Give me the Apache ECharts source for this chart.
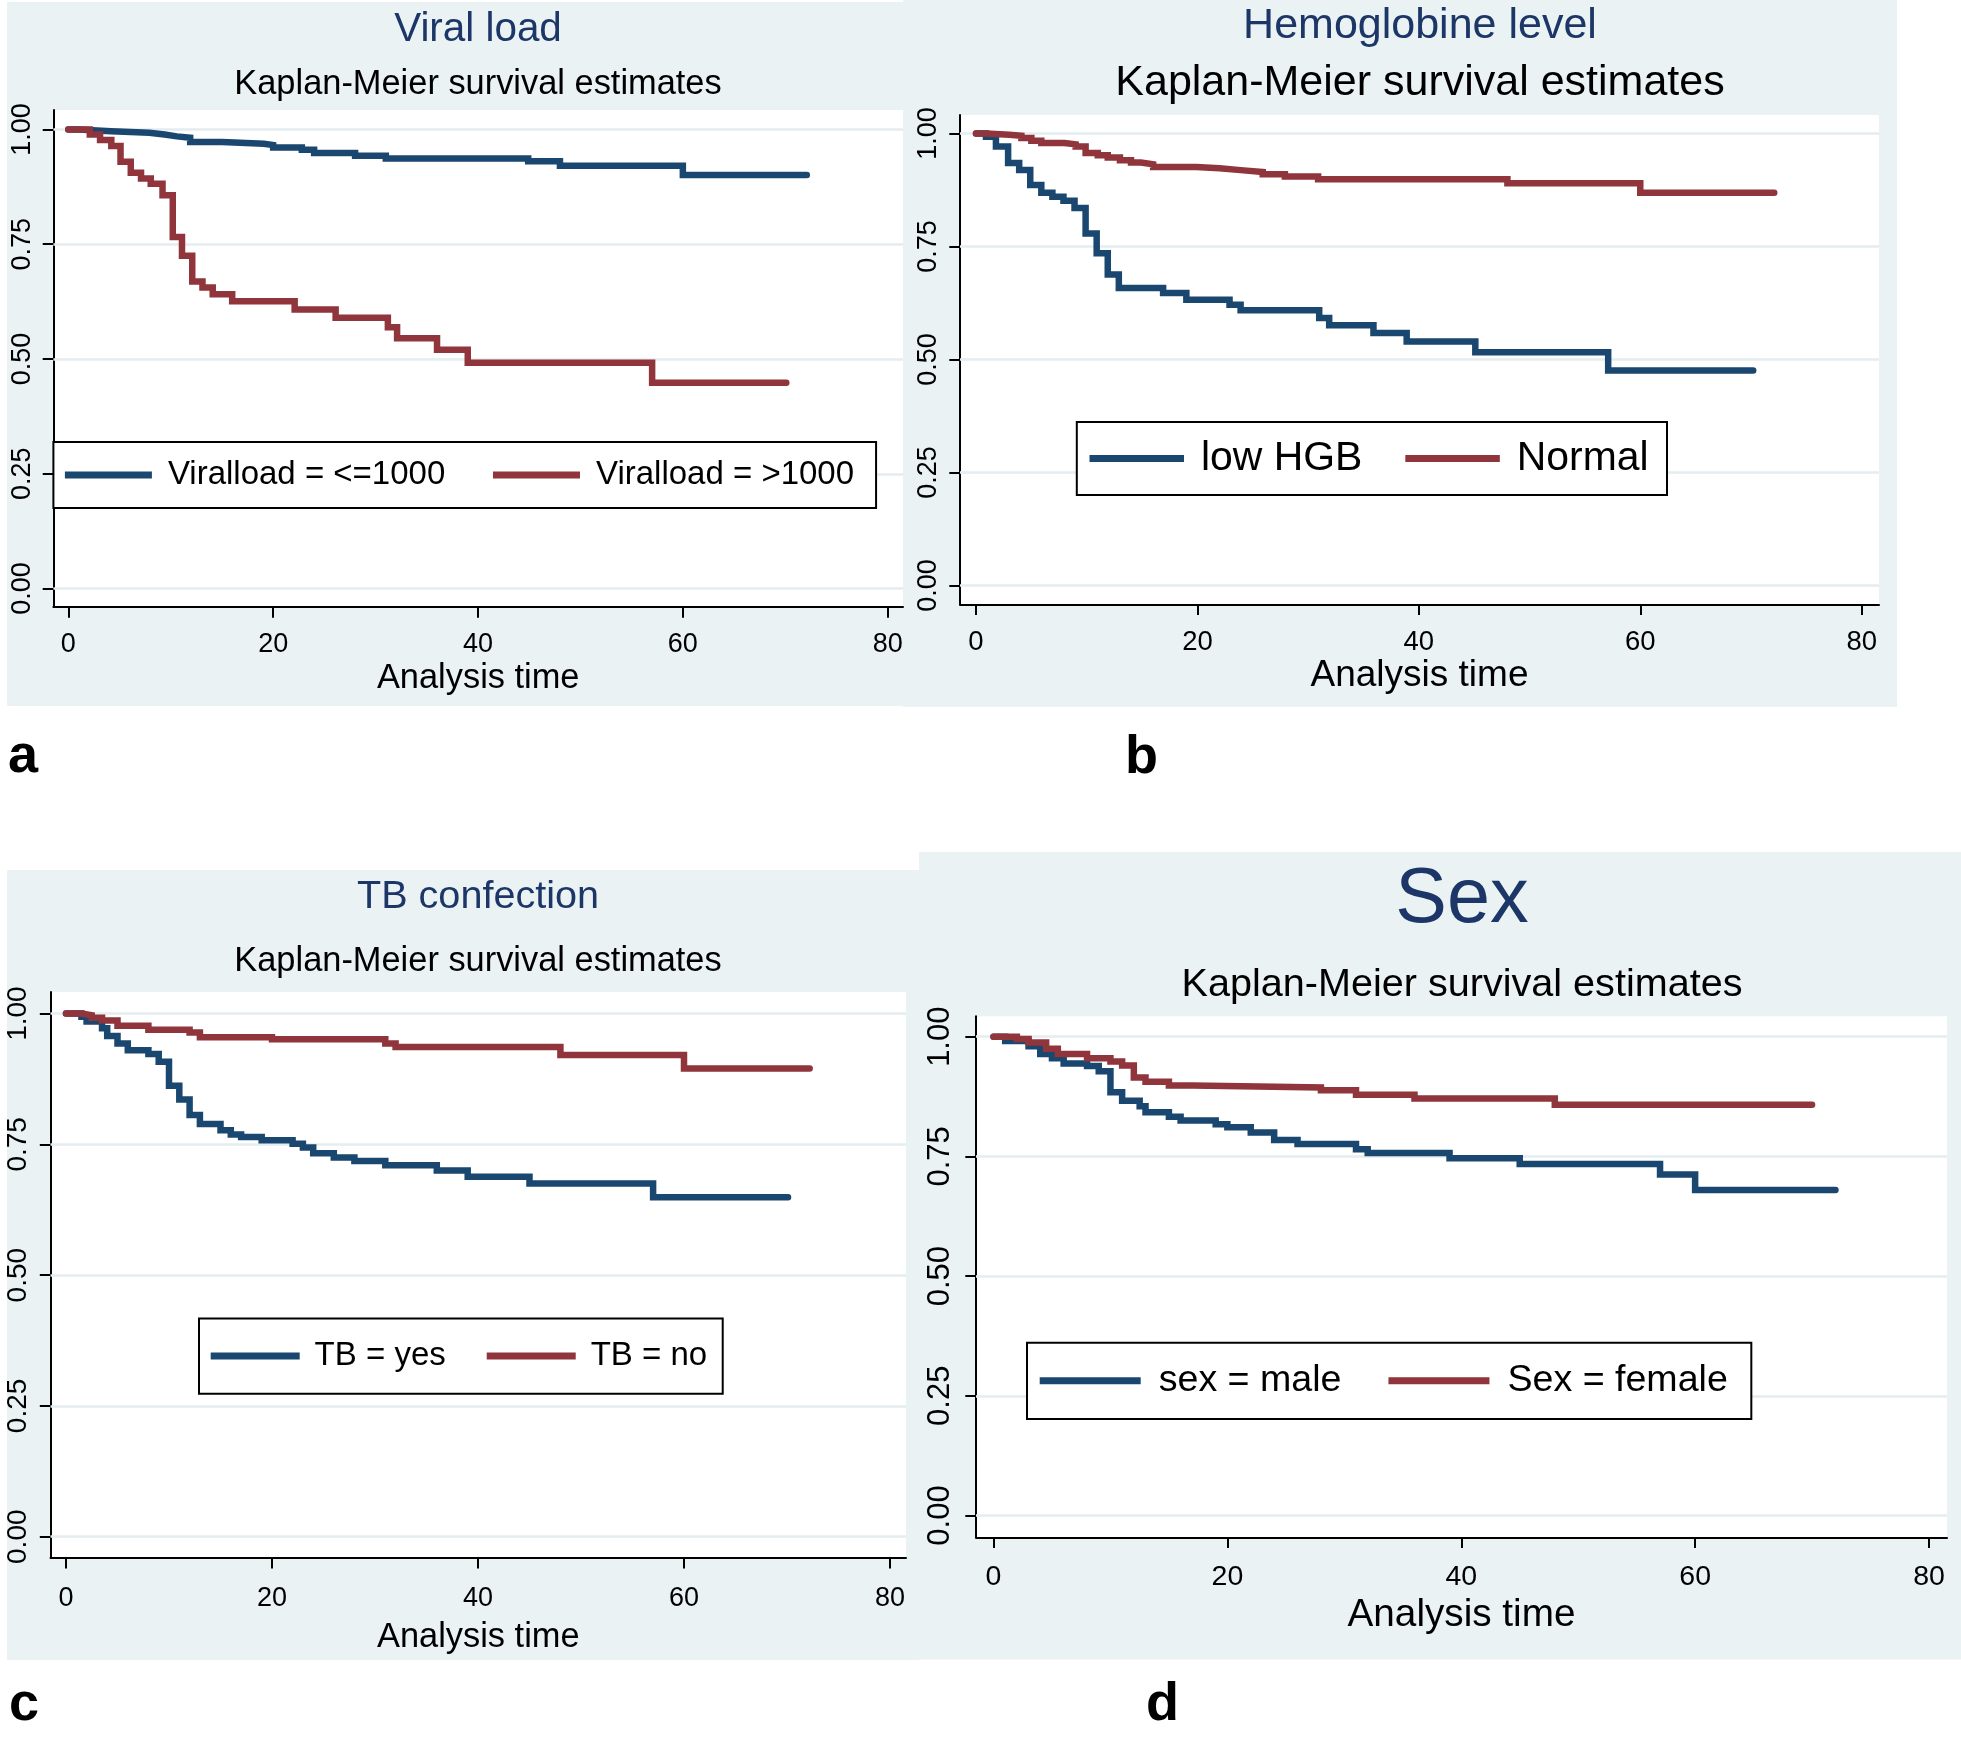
<!DOCTYPE html>
<html>
<head>
<meta charset="utf-8">
<title>Kaplan-Meier survival estimates</title>
<script src="https://cdn.jsdelivr.net/npm/echarts@6/dist/echarts.min.js"></script>
<style>
  html, body { margin: 0; padding: 0; background: #fff; }
  #chart { width: 1961px; height: 1737px; }
</style>
</head>
<body>
<div id="chart"></div>
<script>
// tick values
var xTicks = [0, 20, 40, 60, 80];
var yTicks = [0, 0.25, 0.5, 0.75, 1];

// KM steps: [analysis time, survival]
var viralLow = [[0, 1], [1, 0.996], [4.2, 0.993], [7.9, 0.989], [9.4, 0.985], [10.6, 0.982], [11.9, 0.973],
  [15, 0.969], [19.1, 0.966], [20, 0.961], [22.8, 0.956], [24, 0.949], [28, 0.943], [31, 0.937],
  [44.9, 0.931], [48, 0.921], [60, 0.901], [72.1, 0.901]];
var viralHigh = [[0, 1], [2.1, 0.989], [3.1, 0.977], [4.2, 0.964], [5.1, 0.93], [6.1, 0.906], [7.1, 0.893],
  [8.05, 0.882], [9.2, 0.857], [10.2, 0.766], [11.1, 0.725], [12.1, 0.669], [13.1, 0.656], [14.1, 0.641],
  [16, 0.626], [22.1, 0.608], [26.1, 0.59], [31.2, 0.569], [32.1, 0.545], [36, 0.52], [39, 0.492],
  [57, 0.448], [70.1, 0.448]];

var hgbLow = [[0, 1], [0.9, 0.993], [1.8, 0.971], [2.9, 0.935], [3.9, 0.919], [4.9, 0.886], [5.9, 0.869],
  [6.9, 0.86], [7.9, 0.851], [8.9, 0.835], [9.9, 0.779], [10.9, 0.735], [11.9, 0.688], [12.9, 0.658],
  [16.9, 0.647], [19, 0.632], [22.9, 0.621], [23.9, 0.609], [31, 0.592], [31.9, 0.576], [35.9, 0.559],
  [38.9, 0.54], [45.1, 0.516], [57.1, 0.476], [70.2, 0.476]];
var hgbNormal = [[0, 1], [0.9, 0.997], [3, 0.995], [4.1, 0.99], [5, 0.984], [5.9, 0.979], [8, 0.976],
  [9, 0.971], [9.9, 0.957], [11, 0.952], [11.9, 0.947], [13, 0.941], [14, 0.936], [14.9, 0.932],
  [16, 0.926], [19.9, 0.923], [22, 0.919], [23.9, 0.915], [25.9, 0.91], [27.9, 0.905], [30.9, 0.899],
  [48, 0.89], [60, 0.869], [72.1, 0.869]];

var tbYes = [[0, 1], [1.5, 0.994], [2, 0.985], [3.5, 0.972], [4, 0.957], [5, 0.943], [6, 0.93], [8, 0.923],
  [9, 0.908], [10, 0.862], [11, 0.836], [12, 0.806], [13, 0.789], [15, 0.777], [16, 0.769], [17, 0.764],
  [19, 0.758], [22, 0.751], [23, 0.744], [24, 0.733], [26, 0.725], [28, 0.718], [31, 0.71], [36, 0.7],
  [39, 0.688], [45, 0.675], [57, 0.649], [70.1, 0.649]];
var tbNo = [[0, 1], [1.5, 0.997], [2.5, 0.992], [3.5, 0.987], [5, 0.977], [8, 0.969], [12, 0.964],
  [13, 0.955], [20, 0.951], [31, 0.943], [32, 0.936], [48, 0.921], [60, 0.895], [72.2, 0.895]];

var sexMale = [[0, 1], [1, 0.991], [3, 0.98], [4, 0.964], [5, 0.955], [6, 0.944], [8, 0.939], [9, 0.928],
  [10, 0.884], [11, 0.866], [12.5, 0.855], [13, 0.842], [15, 0.833], [16, 0.825], [19, 0.817], [20, 0.811],
  [22, 0.8], [24, 0.784], [26, 0.776], [31, 0.765], [32, 0.757], [39, 0.746], [45, 0.734], [57, 0.712],
  [60, 0.68], [72, 0.68]];
var sexFemale = [[0, 1], [2, 0.995], [3, 0.988], [4.5, 0.975], [5.5, 0.964], [8, 0.955], [10, 0.948],
  [11, 0.94], [12, 0.915], [13, 0.906], [15, 0.898], [17, 0.894], [28, 0.888], [31, 0.879], [36, 0.871],
  [48, 0.858], [70, 0.858]];

var BLUE = '#1a476f', RED = '#90353b', NAVY = '#1c3767', BG = '#eaf2f3', GRIDLINE = '#e4edef';

// Stata uses a narrow Arial. Use a narrow face if installed, else scale the regular one
// so text widths stay close (legends fully, titles a little less so they keep some height)
function textWidth(font) {
  var ctx = document.createElement('canvas').getContext('2d');
  ctx.font = font;
  return ctx.measureText('Kaplan-Meier survival estimates').width;
}
var NARROW = '"Liberation Sans Narrow", "Arial Narrow"';
if (textWidth('100px ' + NARROW + ', monospace') === textWidth('100px monospace')) {
  NARROW = '"Liberation Sans", Arial';
}
NARROW += ', sans-serif';
var kW = 1170 / textWidth('100px ' + NARROW);
var kT = kW + (1 - kW) * 0.2;
function fsW(n) { return Math.round(n * kW * 10) / 10; }
function fsT(n) { return Math.round(n * kT * 10) / 10; }
var REG = '"Liberation Sans", Arial, sans-serif';

// panel geometry in page pixels
var panels = [
  {
    letter: 'a', letterAt: [8, 757], box: [7, 2, 897, 704],
    plot: [53.4, 110, 903, 607], x0: 68.3, x80: 887.7, y1: 129.5, y0: 588.5,
    title: 'Viral load', titleAt: [478, 29.5], titleSize: 47, subAt: [478, 84.5], subSize: 40,
    xLabSize: 27, xLabMargin: 24, nameSize: 40, nameGap: 55, yLabSize: 27, yLabMargin: 17,
    legend: { left: 53.4, top: 442, pad: [10, 22, 10, 11.5], iw: 87, gap: 16, itemGap: 47.7, size: 40, lh: 46 },
    series: [['Viralload = <=1000', viralLow, BLUE], ['Viralload = >1000', viralHigh, RED]]
  },
  {
    letter: 'b', letterAt: [1125, 758], box: [903, 0, 994, 707],
    plot: [960, 115, 1879, 604.3], x0: 976, x80: 1861.7, y1: 133.5, y0: 585.6,
    title: 'Hemoglobine level', titleAt: [1420, 26.5], titleSize: 50, subAt: [1420, 83.5], subSize: 50,
    xLabSize: 27.5, xLabMargin: 24, nameSize: 43, nameGap: 51, yLabSize: 27, yLabMargin: 18,
    legend: { left: 1076.8, top: 422, pad: [10, 18.4, 10, 12.7], iw: 94.5, gap: 17, itemGap: 43, size: 49.5, lh: 53 },
    series: [['low HGB', hgbLow, BLUE], ['Normal', hgbNormal, RED]]
  },
  {
    letter: 'c', letterAt: [9, 1705], box: [7, 870, 912, 790],
    plot: [50.5, 992, 906, 1557.7], x0: 66, x80: 890, y1: 1013.6, y0: 1536.7,
    title: 'TB confection', titleAt: [478, 897.5], titleSize: 46, subAt: [478, 961.5], subSize: 40,
    xLabSize: 27, xLabMargin: 27, nameSize: 40, nameGap: 63, yLabSize: 28, yLabMargin: 18.5,
    legend: { left: 199, top: 1318.4, pad: [14.7, 15.6, 14.7, 11.7], iw: 89, gap: 14.9, itemGap: 41, size: 40, lh: 46 },
    series: [['TB = yes', tbYes, BLUE], ['TB = no', tbNo, RED]]
  },
  {
    letter: 'd', letterAt: [1146, 1705], box: [919, 852, 1042, 807.5],
    plot: [976, 1016.3, 1947, 1537.3], x0: 993.5, x80: 1929, y1: 1036.7, y0: 1515.5,
    title: 'Sex', titleAt: [1462, 901], titleSize: 90, subAt: [1462, 985], subSize: 46,
    xLabSize: 28.5, xLabMargin: 25.5, nameSize: 45, nameGap: 59, yLabSize: 31, yLabMargin: 20.5,
    legend: { left: 1027, top: 1342.7, pad: [13.1, 23.5, 13.1, 12.7], iw: 101, gap: 18, itemGap: 47, size: 45.5, lh: 50 },
    series: [['sex = male', sexMale, BLUE], ['Sex = female', sexFemale, RED]]
  }
];

var option = {
  animation: false,
  backgroundColor: '#fff',
  graphic: { elements: [] },
  title: [], grid: [], xAxis: [], yAxis: [], legend: [], series: []
};

panels.forEach(function (p, i) {
  var pl = p.plot;
  var xPer = 80 / (p.x80 - p.x0);
  var yPer = 1 / (p.y0 - p.y1);

  option.graphic.elements.push({
    type: 'rect', z: -10, silent: true,
    shape: { x: p.box[0], y: p.box[1], width: p.box[2], height: p.box[3] },
    style: { fill: BG }
  });
  option.graphic.elements.push({
    type: 'text', x: p.letterAt[0], y: p.letterAt[1], silent: true,
    style: { text: p.letter, fontSize: 54, fontWeight: 'bold', fontFamily: REG, fill: '#000', verticalAlign: 'middle' }
  });

  option.title.push({
    text: p.title, left: p.titleAt[0], top: p.titleAt[1], padding: 0,
    textAlign: 'center', textVerticalAlign: 'middle',
    textStyle: { fontFamily: NARROW, fontSize: fsT(p.titleSize), fontWeight: 'normal', color: NAVY }
  });
  option.title.push({
    text: 'Kaplan-Meier survival estimates', left: p.subAt[0], top: p.subAt[1], padding: 0,
    textAlign: 'center', textVerticalAlign: 'middle',
    textStyle: { fontFamily: NARROW, fontSize: fsT(p.subSize), fontWeight: 'normal', color: '#000' }
  });

  option.grid.push({
    left: pl[0], top: pl[1], width: pl[2] - pl[0], height: pl[3] - pl[1],
    show: true, backgroundColor: '#fff', borderWidth: 0
  });

  option.xAxis.push({
    type: 'value', gridIndex: i,
    min: -(p.x0 - pl[0]) * xPer, max: 80 + (pl[2] - p.x80) * xPer,
    name: 'Analysis time', nameLocation: 'middle', nameGap: p.nameGap,
    nameTextStyle: { fontFamily: NARROW, fontSize: fsT(p.nameSize), color: '#000' },
    axisLine: { show: true, onZero: false, lineStyle: { color: '#000', width: 2 } },
    axisTick: { show: true, customValues: xTicks, length: 10.7, lineStyle: { color: '#000', width: 2 } },
    axisLabel: { customValues: xTicks, margin: p.xLabMargin, fontFamily: REG, fontSize: p.xLabSize, color: '#000' },
    splitLine: { show: false }
  });
  option.yAxis.push({
    type: 'value', gridIndex: i,
    min: -(pl[3] - p.y0) * yPer, max: 1 + (p.y1 - pl[1]) * yPer,
    axisLine: { show: true, onZero: false, lineStyle: { color: '#000', width: 2 } },
    axisTick: { show: true, customValues: yTicks, length: 10.7, lineStyle: { color: '#000', width: 2 } },
    axisLabel: {
      customValues: yTicks, rotate: 90, margin: p.yLabMargin,
      fontFamily: REG, fontSize: p.yLabSize, color: '#000',
      formatter: function (v) { return v.toFixed(2); }
    },
    splitLine: { show: false }
  });

  var lg = p.legend;
  option.legend.push({
    left: lg.left, top: lg.top, padding: lg.pad, orient: 'horizontal',
    data: p.series.map(function (s) { return s[0]; }),
    icon: 'rect', itemWidth: lg.iw, itemHeight: 7, itemGap: lg.itemGap,
    itemStyle: { borderWidth: 0 },
    selectedMode: false,
    backgroundColor: '#fff', borderColor: '#000', borderWidth: 2,
    textStyle: { fontFamily: NARROW, fontSize: fsW(lg.size), lineHeight: lg.lh, color: '#000', padding: [0, 0, 0, lg.gap - 5] }
  });

  p.series.forEach(function (s, j) {
    var ser = {
      name: s[0], type: 'line', xAxisIndex: i, yAxisIndex: i,
      data: s[1], step: 'end', showSymbol: false, symbol: 'none', z: 2 + j,
      itemStyle: { color: s[2] },
      lineStyle: { color: s[2], width: 6.5, cap: 'round', join: 'miter' },
      emphasis: { disabled: true }
    };
    if (j === 0) {
      // light horizontal grid lines at the y ticks
      ser.markLine = {
        silent: true, z: 1, symbol: ['none', 'none'], label: { show: false },
        lineStyle: { color: GRIDLINE, width: 2.5, type: 'solid' },
        emphasis: { disabled: true },
        data: yTicks.map(function (v) { return { yAxis: v }; })
      };
    }
    option.series.push(ser);
  });
});

var chart = echarts.init(document.getElementById('chart'));
chart.setOption(option);
window.addEventListener('resize', function () { chart.resize(); });
</script>
</body>
</html>
